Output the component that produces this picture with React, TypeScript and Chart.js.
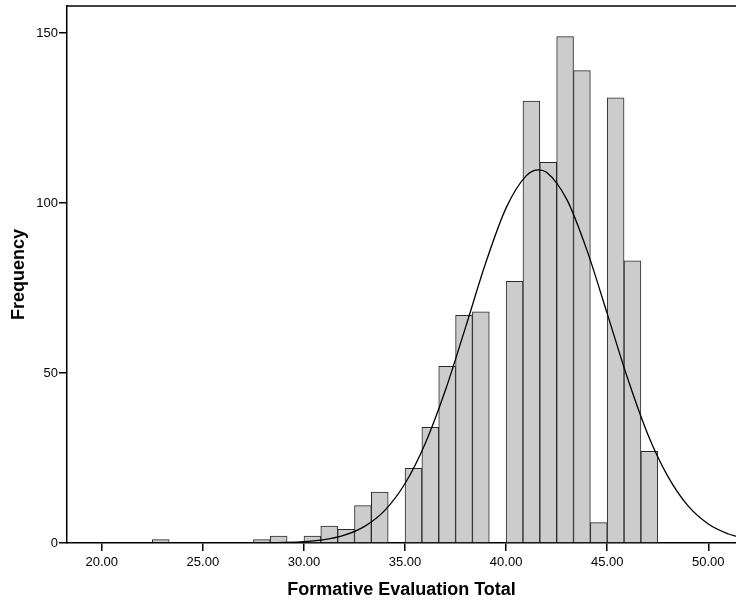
import React, { useEffect, useRef } from "react";
import { Chart, registerables } from "chart.js";

Chart.register(...registerables);

// Histogram bins (lower edges) and their frequencies
const BIN_WIDTH = 0.8333;
const binStarts = [22.5, 27.5, 28.333, 30.0, 30.833, 31.667, 32.5, 33.333, 35.0, 35.833, 36.667, 37.5, 38.333, 40.0, 40.833, 41.667, 42.5, 43.333, 44.167, 45.0, 45.833, 46.667];
const binCounts = [1, 1, 2, 2, 5, 4, 11, 15, 22, 34, 52, 67, 68, 77, 130, 112, 149, 139, 6, 131, 83, 27];

// Normal curve
const curveX = [18.3, 20, 22, 24, 26, 27, 28, 29, 30, 31, 32, 33, 34, 35, 36, 37, 38, 39, 40, 41, 41.6, 42, 43, 44, 45, 46, 47, 48, 49, 50, 51, 51.4];
const curveY = [0, 0, 0, 0, 0.01, 0.01, 0.05, 0.14, 0.38, 0.97, 2.3, 4.9, 9.6, 17.5, 29.3, 45.0, 63.6, 82.6, 98.6, 108.1, 109.8, 109.1, 101.1, 86.1, 67.5, 48.6, 32.1, 19.6, 10.9, 5.6, 2.65, 1.9];

const xTicks = [20, 25, 30, 35, 40, 45, 50];
const yTicks = [0, 50, 100, 150];
const X_MIN = 18.28;
const X_MAX = 51.37;
const Y_MAX = 158;

const xTitle = "Formative Evaluation Total";
const yTitle = "Frequency";

const FONT = "'Liberation Sans', Arial, sans-serif";
const AXIS_W = 1.5;

const topBorder = {
  id: "topBorder",
  afterDraw(chart: any) {
    const { ctx, chartArea } = chart;
    ctx.save();
    ctx.strokeStyle = "#000";
    ctx.lineWidth = AXIS_W;
    ctx.beginPath();
    ctx.moveTo(chartArea.left, chartArea.top);
    ctx.lineTo(chartArea.right, chartArea.top);
    ctx.stroke();
    ctx.restore();
  },
};

export default function App() {
  const ref = useRef<HTMLCanvasElement | null>(null);
  useEffect(() => {
    document.body.style.margin = "0";
    const canvas = ref.current;
    if (!canvas) return;
    const chart = new Chart(canvas, {
      data: {
        datasets: [
          {
            type: "bar",
            data: binStarts.map((s, i) => ({ x: s + BIN_WIDTH / 2, y: binCounts[i] })),
            backgroundColor: "#cccccc",
            borderColor: "#2a2a2a",
            borderWidth: 1,
            barPercentage: 1,
            categoryPercentage: 1,
            order: 2,
          } as any,
          {
            type: "line",
            data: curveX.map((x, i) => ({ x, y: curveY[i] })),
            borderColor: "#000000",
            borderWidth: 1.3,
            pointRadius: 0,
            fill: false,
            cubicInterpolationMode: "monotone",
            order: 1,
          } as any,
        ],
      },
      options: {
        responsive: false,
        animation: false,
        layout: { padding: { top: 6, left: 0, right: 0, bottom: 0 } },
        plugins: {
          legend: { display: false },
          tooltip: { enabled: false },
        },
        scales: {
          x: {
            type: "linear",
            min: X_MIN,
            max: X_MAX,
            offset: false,
            afterBuildTicks: (scale: any) => {
              scale.ticks = xTicks.map((v) => ({ value: v }));
            },
            afterFit: (scale: any) => {
              scale.height = 59;
              scale.paddingLeft = 0;
              scale.paddingRight = 0;
            },
            grid: {
              display: true,
              offset: false,
              drawOnChartArea: false,
              drawTicks: true,
              tickLength: 8,
              lineWidth: AXIS_W,
              tickWidth: AXIS_W,
              color: "#000",
              tickColor: "#000",
            },
            border: { display: true, color: "#000", width: AXIS_W },
            ticks: {
              color: "#000",
              font: { family: FONT, size: 13 },
              padding: 4,
              maxRotation: 0,
              callback: (v: any) => Number(v).toFixed(2),
            },
            title: {
              display: true,
              text: xTitle,
              color: "#000",
              font: { family: FONT, size: 18, weight: "bold" },
              padding: { top: 0, bottom: 1 },
            },
          },
          y: {
            type: "linear",
            min: 0,
            max: Y_MAX,
            afterBuildTicks: (scale: any) => {
              scale.ticks = yTicks.map((v) => ({ value: v }));
            },
            afterFit: (scale: any) => {
              scale.width = 67;
              scale.paddingTop = 0;
              scale.paddingBottom = 0;
            },
            grid: {
              display: true,
              drawOnChartArea: false,
              drawTicks: true,
              tickLength: 8,
              lineWidth: AXIS_W,
              tickWidth: AXIS_W,
              color: "#000",
              tickColor: "#000",
            },
            border: { display: true, color: "#000", width: AXIS_W },
            ticks: {
              color: "#000",
              font: { family: FONT, size: 13 },
              padding: 1,
            },
            title: {
              display: true,
              text: yTitle,
              color: "#000",
              font: { family: FONT, size: 18, weight: "bold" },
              padding: { top: 8, bottom: 0 },
            },
          },
        },
      },
      plugins: [topBorder],
    } as any);
    return () => chart.destroy();
  }, []);
  return (
    <div style={{ position: "fixed", left: 0, top: 0, width: 736, height: 602, background: "#fff" }}>
      <canvas ref={ref} width={736} height={602} style={{ display: "block" }} />
    </div>
  );
}
